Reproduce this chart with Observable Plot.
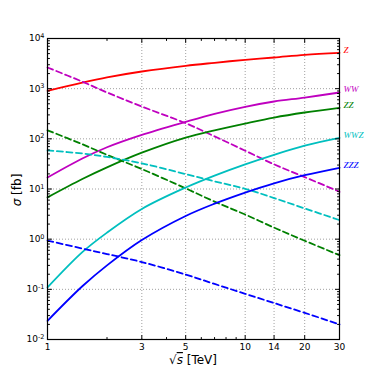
<!DOCTYPE html>
<html><head><meta charset="utf-8">
<script src="https://cdn.jsdelivr.net/npm/d3@7"></script>
<script src="https://cdn.jsdelivr.net/npm/@observablehq/plot@0.6"></script>
<style>html,body{margin:0;padding:0;background:#fff}#chart svg{display:block}</style>
</head><body><div id="chart"></div>
<script>
// sqrt(s) in TeV
const sqrtS = [1, 1.5, 2, 3, 5, 7, 10, 14, 20, 30];

// solid curves (cross sections in fb)
const Z_solid   = [908, 1320, 1680, 2200, 2860, 3280, 3760, 4180, 4730, 5190];
const WW_solid  = [16.9, 40.5, 68, 120, 218, 315, 435, 555, 665, 839];
const ZZ_solid  = [6.8, 15.8, 27, 53, 106, 148, 202, 266, 335, 416];
const WWZ_solid = [0.109, 0.55, 1.35, 4.0, 10.7, 18.5, 31, 48, 73, 104];
const ZZZ_solid = [0.0236, 0.115, 0.30, 0.96, 2.9, 5.1, 8.5, 13.0, 18.8, 26.5];

// dashed curves
const WW_dashed  = [2640, 1380, 840, 440, 205, 112, 58, 31, 17.3, 8.8];
const ZZ_dashed  = [148, 78, 48, 25, 10.3, 5.6, 3.1, 1.7, 0.93, 0.48];
const WWZ_dashed = [58.6, 51, 43.5, 32.5, 19.8, 14.2, 10.1, 6.6, 4.1, 2.4];
const ZZZ_dashed = [0.94, 0.65, 0.505, 0.35, 0.197, 0.128, 0.0815, 0.0533, 0.034, 0.020];

const processNames = ["Z", "WW", "ZZ", "WWZ", "ZZZ"];
const processColors = ["#ff0000", "#bf00bf", "#008000", "#00bfbf", "#0000ff"];

const xTicks = [1, 3, 5, 10, 14, 20, 30];
const xTickLabels = ["1", "3", "5", "10", "14", "20", "30"];
const xMinorTicks = [2, 4, 6, 7, 8, 9];
const yTicks = [1e-2, 1e-1, 1, 10, 100, 1000, 10000];
const yTickBase = "10";
const yTickExponents = ["-2", "-1", "0", "1", "2", "3", "4"];

const solidSeries = [Z_solid, WW_solid, ZZ_solid, WWZ_solid, ZZZ_solid];
const dashedSeries = [null, WW_dashed, ZZ_dashed, WWZ_dashed, ZZZ_dashed];

const toRows = (vals) => sqrtS.map((x, i) => ({x, y: vals[i]}));

const yMinorTicks = [];
for (let e = -2; e < 4; e++) for (let m = 2; m <= 9; m++) yMinorTicks.push(m * Math.pow(10, e));

const xLabelMap = new Map(xTicks.map((d, i) => [d, xTickLabels[i]]));
const yLabelMap = new Map(yTicks.map((d, i) => [d, yTickBase + "^" + yTickExponents[i]]));

const tickShape = {draw(context, l) { context.moveTo(0, 0); context.lineTo(0, -l); }};
const tickMarks = (data, dim, anchor, rotate, len) =>
  Plot.vector(data, {[dim]: d => d, frameAnchor: anchor, rotate, length: len, anchor: "start",
    shape: tickShape, stroke: "black", strokeWidth: 1, fill: "none"});

const marks = [];
// grid
marks.push(Plot.ruleX(xTicks.slice(1, -1), {x: d => d, stroke: "#888", strokeWidth: 0.8, strokeDasharray: "1,2"}));
marks.push(Plot.ruleY(yTicks.slice(1, -1), {y: d => d, stroke: "#888", strokeWidth: 0.8, strokeDasharray: "1,2"}));

// curves
processNames.forEach((name, k) => {
  marks.push(Plot.line(toRows(solidSeries[k]), {x: "x", y: "y", stroke: processColors[k], strokeWidth: 1.8, curve: "catmull-rom"}));
  if (dashedSeries[k]) marks.push(Plot.line(toRows(dashedSeries[k]), {x: "x", y: "y", stroke: processColors[k], strokeWidth: 1.8, strokeDasharray: "6,3.5", curve: "catmull-rom"}));
});

// labels at the right end
processNames.forEach((name, k) => {
  const last = sqrtS.length - 1;
  marks.push(Plot.text([{x: sqrtS[last], y: solidSeries[k][last], t: name}], {
    x: "x", y: "y", text: "t", fill: processColors[k], textAnchor: "start", dx: 4, dy: -3,
    fontFamily: "Liberation Serif", fontStyle: "italic", fontSize: 9}));
});

// frame + inward ticks
marks.push(Plot.frame({stroke: "black", strokeWidth: 1.2}));
marks.push(tickMarks(xTicks, "x", "bottom", 0, 4));
marks.push(tickMarks(xTicks, "x", "top", 180, 4));
marks.push(tickMarks(xMinorTicks, "x", "bottom", 0, 2));
marks.push(tickMarks(xMinorTicks, "x", "top", 180, 2));
marks.push(tickMarks(yTicks, "y", "left", 90, 4));
marks.push(tickMarks(yTicks, "y", "right", -90, 4));
marks.push(tickMarks(yMinorTicks, "y", "left", 90, 2));
marks.push(tickMarks(yMinorTicks, "y", "right", -90, 2));

// tick labels
marks.push(Plot.axisX({ticks: xTicks, tickFormat: d => xLabelMap.get(d), tickSize: 0, tickPadding: 4, fontSize: 9, label: null}));
marks.push(Plot.axisY({ticks: yTicks, tickFormat: d => yLabelMap.get(d), tickSize: 0, tickPadding: 3, fontSize: 9, label: null}));

const chart = Plot.plot({
  width: 377, height: 377,
  marginLeft: 47, marginRight: 38, marginTop: 38, marginBottom: 38,
  style: {fontFamily: "DejaVu Sans", fontSize: "9px", background: "#fff", color: "black"},
  x: {type: "log", domain: [1, 30]},
  y: {type: "log", domain: [1e-2, 1e4]},
  marks
});

const svg = d3.select(chart.tagName.toLowerCase() === "svg" ? chart : chart.querySelector("svg"));

// turn "10^e" tick labels into a base with a raised exponent
svg.selectAll("text").each(function () {
  const t = d3.select(this);
  const s = t.text();
  if (s.startsWith(yTickBase + "^")) {
    const exp = s.slice(yTickBase.length + 1);
    t.text(null);
    t.append("tspan").text(yTickBase);
    t.append("tspan").attr("font-size", 6.5).attr("dy", "-0.5em").text(exp);
  }
});

// y label
const yl = svg.append("text").attr("transform", "translate(21,190) rotate(-90)")
  .attr("text-anchor", "middle").attr("font-family", "DejaVu Sans").attr("font-size", 12).attr("fill", "black");
yl.append("tspan").attr("font-style", "italic").text("σ");
yl.append("tspan").text(" [fb]");
// x label
const xl = svg.append("text").attr("x", 193).attr("y", 364)
  .attr("text-anchor", "middle").attr("font-family", "DejaVu Sans").attr("font-size", 12).attr("fill", "black");
xl.append("tspan").text("√");
xl.append("tspan").attr("font-style", "italic").attr("text-decoration", "overline").text("s");
xl.append("tspan").text(" [TeV]");

document.getElementById("chart").appendChild(chart);
</script>
</body></html>
